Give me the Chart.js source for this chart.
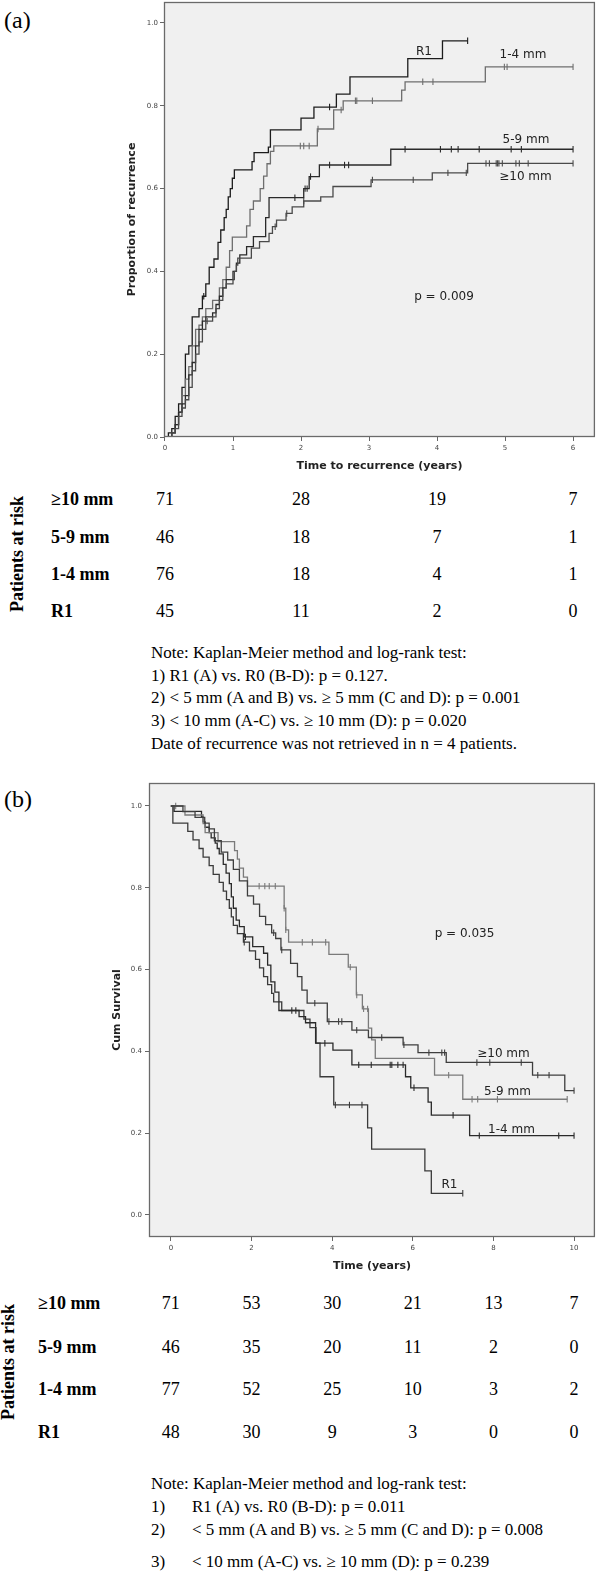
<!DOCTYPE html>
<html>
<head>
<meta charset="utf-8">
<script src="https://cdn.jsdelivr.net/npm/chart.js@4.4.1/dist/chart.umd.min.js"></script>
<style>
html,body{margin:0;padding:0;background:#fff;}
body{width:600px;height:1571px;position:relative;overflow:hidden;}
canvas{position:absolute;}
.t{position:absolute;white-space:nowrap;line-height:1;}
.serif{font-family:"Liberation Serif","Times New Roman",serif;color:#000;}
.b{font-weight:bold;}
.sans{font-family:"DejaVu Sans",sans-serif;color:#222;font-size:12px;}
</style>
</head>
<body>
<canvas id="ca" width="500" height="490" style="left:100px;top:-10px;width:500px;height:490px"></canvas>
<canvas id="cb" width="520" height="509" style="left:80px;top:771px;width:520px;height:509px"></canvas>
<script>
// ================= DATA (a): proportion of recurrence =================
const aXTicks = [0,1,2,3,4,5,6];
const aYTicks = [0,0.2,0.4,0.6,0.8,1.0];
const aGroups = ['R1','1-4 mm','5-9 mm','≥10 mm'];

const aR1_t = [0,0.05,0.1,0.15,0.2,0.25,0.3,0.35,0.4,0.5,0.55,0.6,0.65,0.72,0.78,0.82,0.87,0.9,0.93,0.96,0.99,1.02,1.28,1.31,1.52,1.55,2.0,2.19,2.52,2.72,3.57,4.08,4.45];
const aR1_p = [0,0.01,0.02,0.05,0.08,0.12,0.2,0.22,0.29,0.31,0.34,0.37,0.41,0.43,0.47,0.5,0.53,0.55,0.58,0.6,0.625,0.645,0.665,0.687,0.7,0.742,0.77,0.797,0.828,0.87,0.914,0.957,0.957];
const aR1_c = [0.57,2.42,4.45];

const a14_t = [0,0.1,0.15,0.2,0.25,0.3,0.35,0.4,0.45,0.5,0.55,0.6,0.7,0.8,0.85,0.9,0.95,0.99,1.2,1.25,1.3,1.4,1.45,1.5,1.55,1.6,2.24,2.48,2.62,3.48,3.53,4.71,6.0];
const a14_p = [0,0.01,0.03,0.06,0.1,0.14,0.17,0.22,0.26,0.27,0.29,0.31,0.33,0.36,0.38,0.41,0.45,0.483,0.51,0.55,0.57,0.6,0.63,0.66,0.69,0.703,0.744,0.79,0.812,0.838,0.858,0.894,0.894];
const a14_c = [1.99,2.04,2.12,2.25,2.59,2.8,2.82,3.05,3.79,3.94,4.99,5.03,6.0];

const a59_t = [0,0.1,0.15,0.2,0.25,0.3,0.35,0.4,0.45,0.5,0.55,0.6,0.7,0.75,0.8,0.85,0.9,1.0,1.05,1.1,1.2,1.3,1.48,1.53,2.04,2.12,2.27,3.32,6.0];
const a59_p = [0,0.01,0.03,0.06,0.08,0.1,0.15,0.18,0.22,0.26,0.28,0.29,0.3,0.32,0.34,0.36,0.38,0.4,0.42,0.44,0.46,0.484,0.53,0.578,0.6,0.629,0.657,0.695,0.695];
const a59_c = [1.91,2.06,2.09,2.14,2.42,2.64,2.7,3.53,4.05,4.21,4.31,4.62,5.09,5.24,6.0];

const a10_t = [0,0.1,0.15,0.2,0.25,0.3,0.35,0.4,0.45,0.5,0.55,0.6,0.7,0.75,0.8,0.85,0.9,1.0,1.02,1.05,1.07,1.27,1.39,1.53,1.58,1.64,1.78,1.87,2.04,2.29,2.47,3.03,3.93,4.45,6.0];
const a10_p = [0,0.01,0.02,0.05,0.07,0.09,0.12,0.16,0.2,0.23,0.26,0.28,0.29,0.31,0.33,0.36,0.37,0.38,0.4,0.415,0.432,0.456,0.472,0.492,0.508,0.524,0.54,0.556,0.57,0.58,0.605,0.621,0.638,0.661,0.661];
const a10_c = [0.62,1.62,1.79,2.04,3.05,3.65,4.16,4.43,4.72,4.77,4.87,4.89,4.91,4.96,5.16,5.21,5.34,6.0];

const aRiskTimes = [0,2,4,6];
const aRiskLabels = ['≥10 mm','5-9 mm','1-4 mm','R1'];
const aRisk10 = [71,28,19,7];
const aRisk59 = [46,18,7,1];
const aRisk14 = [76,18,4,1];
const aRiskR1 = [45,11,2,0];

// ================= DATA (b): cumulative survival =================
const bXTicks = [0,2,4,6,8,10];
const bYTicks = [0,0.2,0.4,0.6,0.8,1.0];

const bR1_t = [0,0.05,0.42,0.55,0.7,0.8,0.95,1.05,1.2,1.3,1.38,1.45,1.5,1.55,1.65,1.8,1.95,2.1,2.2,2.3,2.4,2.5,2.55,2.75,3.3,3.45,3.6,3.7,4.04,4.88,4.98,6.3,6.46,7.24];
const bR1_s = [1,0.958,0.938,0.917,0.896,0.875,0.854,0.833,0.813,0.792,0.771,0.75,0.729,0.708,0.688,0.667,0.646,0.625,0.604,0.583,0.563,0.542,0.521,0.5,0.479,0.458,0.42,0.338,0.269,0.213,0.161,0.108,0.053,0.053];
const bR1_c = [1.82,4.08,4.43,4.74,7.24];

const b14_t = [0,0.08,0.76,0.8,0.85,0.95,1.0,1.1,1.15,1.2,1.3,1.37,1.45,1.5,1.55,1.62,1.7,1.82,2.03,2.3,2.4,2.48,2.58,2.68,3.18,3.34,3.59,4.02,4.49,5.82,5.95,6.38,6.46,7.41,10.0];
const b14_s = [1,0.987,0.974,0.961,0.948,0.935,0.922,0.909,0.896,0.883,0.857,0.836,0.81,0.778,0.75,0.721,0.705,0.68,0.656,0.64,0.611,0.57,0.545,0.5,0.485,0.47,0.42,0.403,0.367,0.338,0.311,0.276,0.244,0.194,0.194];
const b14_c = [1.85,3.0,3.1,3.82,4.66,4.97,5.44,5.48,5.63,5.76,6.03,7.0,7.65,9.62,10.0];

const b59_t = [0,0.35,0.8,0.85,1.17,1.58,1.65,1.7,1.8,1.9,2.81,2.85,2.92,3.92,4.4,4.6,4.75,4.9,4.98,5.07,6.54,7.24,9.83];
const b59_s = [1,0.978,0.957,0.935,0.913,0.891,0.87,0.848,0.826,0.804,0.75,0.697,0.667,0.637,0.606,0.538,0.504,0.457,0.428,0.383,0.342,0.283,0.283];
const b59_c = [0.12,2.19,2.33,2.44,2.59,2.81,2.85,3.26,3.51,3.84,4.45,4.61,4.78,4.88,6.89,7.47,7.61,8.1,9.83];

const b10_t = [0,0.3,0.6,0.84,0.95,1.08,1.25,1.41,1.55,1.7,1.9,2.05,2.2,2.35,2.5,2.6,2.73,2.97,3.14,3.25,3.38,3.88,4.49,4.9,5.76,6.13,6.83,8.97,9.77,10.0];
const b10_s = [1,0.986,0.972,0.958,0.944,0.915,0.887,0.868,0.845,0.817,0.78,0.76,0.73,0.71,0.69,0.676,0.648,0.615,0.583,0.55,0.518,0.473,0.452,0.434,0.416,0.397,0.373,0.342,0.304,0.304];
const b10_c = [2.55,2.75,3.57,3.92,4.16,4.24,4.61,5.23,5.78,6.4,6.72,6.79,7.59,7.91,8.69,9.1,9.38,10.0];

const bRiskTimes = [0,2,4,6,8,10];
const bRiskLabels = ['≥10 mm','5-9 mm','1-4 mm','R1'];
const bRisk10 = [71,53,30,21,13,7];
const bRisk59 = [46,35,20,11,2,0];
const bRisk14 = [77,52,25,10,3,2];
const bRiskR1 = [48,30,9,3,0,0];

// ================= helpers =================
function stepVal(ts, vs, t){ let v = vs[0]; for (let i=0;i<ts.length;i++){ if (ts[i] <= t + 1e-9) v = vs[i]; } return v; }
function lineDS(ts, vs, color){
  return {type:'line', data: ts.map((t,i)=>({x:t,y:vs[i]})), borderColor:color, borderWidth:1.3,
    stepped:'before', pointRadius:0, fill:false, tension:0};
}
function censorDS(cs, ts, vs, color){
  return {type:'scatter', data: cs.map(t=>({x:t,y:stepVal(ts,vs,t)})), showLine:false,
    pointStyle:'line', pointRotation:90, pointRadius:3.2, pointBorderColor:color, pointBorderWidth:1.1,
    borderColor:color, backgroundColor:color};
}
const framePlugin = {
  id:'frame',
  beforeDraw(chart){ const {ctx, chartArea:a} = chart; ctx.save(); ctx.fillStyle='#f0f0f0';
    ctx.fillRect(a.left, a.top, a.right-a.left, a.bottom-a.top); ctx.restore(); },
  afterDraw(chart){ const {ctx, chartArea:a} = chart; ctx.save(); ctx.strokeStyle='#6a6a6a'; ctx.lineWidth=1.3;
    ctx.strokeRect(a.left+0.5, a.top+0.5, a.right-a.left-1, a.bottom-a.top-1); ctx.restore(); }
};
const tickFont = {family:'DejaVu Sans', size:7};
const titleFont = {family:'DejaVu Sans', size:11, weight:'bold'};

function makeChart(id, datasets, o){
  return new Chart(document.getElementById(id), {
    type:'line',
    data:{datasets},
    plugins:[framePlugin],
    options:{
      responsive:false, animation:false, devicePixelRatio:1,
      layout:{padding:{top:12,right:2,left:0,bottom:0}},
      plugins:{legend:{display:false}, tooltip:{enabled:false}},
      scales:{
        x:{type:'linear', min:o.xmin, max:o.xmax,
          afterBuildTicks:s=>{ s.ticks = o.xticks.map(v=>({value:v})); },
          afterFit:s=>{ s.height = o.xh; },
          grid:{drawOnChartArea:false, drawTicks:true, tickLength:4, color:'#666'},
          border:{display:false},
          ticks:{font:tickFont, color:'#444', padding:3, maxRotation:0, autoSkip:false},
          title:{display:true, text:o.xtitle, font:titleFont, color:'#222', padding:{top:0,bottom:7.4}}
        },
        y:{type:'linear', min:o.ymin, max:o.ymax,
          afterBuildTicks:s=>{ s.ticks = o.yticks.map(v=>({value:v})); },
          afterFit:s=>{ s.width = o.yw; },
          grid:{drawOnChartArea:false, drawTicks:true, tickLength:4, color:'#666'},
          border:{display:false},
          ticks:{font:tickFont, color:'#444', padding:o.ypad, autoSkip:false, callback:v=>Number(v).toFixed(1)},
          title:{display:true, text:o.ytitle, font:titleFont, color:'#222', padding:{top:o.ytpad,bottom:0}}
        }
      }
    }
  });
}

// ================= chart (a) =================
const aCol = {r1:'#1c1c1c', m14:'#6e6e6e', m59:'#2a2a2a', m10:'#4a4a4a'};
const chartA = makeChart('ca', [
  lineDS(a10_t,a10_p,aCol.m10), lineDS(a59_t,a59_p,aCol.m59), lineDS(a14_t,a14_p,aCol.m14), lineDS(aR1_t,aR1_p,aCol.r1),
  censorDS(a10_c,a10_t,a10_p,aCol.m10), censorDS(a59_c,a59_t,a59_p,aCol.m59), censorDS(a14_c,a14_t,a14_p,aCol.m14), censorDS(aR1_c,aR1_t,aR1_p,aCol.r1)
], {xmin:-0.0146, xmax:6.3212, ymin:0, ymax:1.0507, xticks:aXTicks, yticks:aYTicks, xh:43, yw:64, ypad:2, ytpad:25.4,
    xtitle:'Time to recurrence (years)', ytitle:'Proportion of recurrence'});

// ================= chart (b) =================
const bCol = {r1:'#3a3a3a', m14:'#2a2a2a', m59:'#7a7a7a', m10:'#3e3e3e'};
const chartB = makeChart('cb', [
  lineDS(b10_t,b10_s,bCol.m10), lineDS(b59_t,b59_s,bCol.m59), lineDS(b14_t,b14_s,bCol.m14), lineDS(bR1_t,bR1_s,bCol.r1),
  censorDS(b10_c,b10_t,b10_s,bCol.m10), censorDS(b59_c,b59_t,b59_s,bCol.m59), censorDS(b14_c,b14_t,b14_s,bCol.m14), censorDS(bR1_c,bR1_t,bR1_s,bCol.r1)
], {xmin:-0.542, xmax:10.517, ymin:-0.0538, ymax:1.0562, xticks:bXTicks, yticks:bYTicks, xh:43, yw:69, ypad:3, ytpad:30.4,
    xtitle:'Time (years)', ytitle:'Cum Survival'});

// ================= text =================
function put(txt, x, y, cls, style, center){
  const d = document.createElement('div');
  d.className = 't ' + cls; d.textContent = txt;
  d.style.left = x + 'px'; d.style.top = y + 'px';
  d.style.transform = center ? 'translate(-50%,-50%)' : 'translate(0,-50%)';
  if (style) Object.assign(d.style, style);
  document.body.appendChild(d);
  return d;
}
// panel letters
put('(a)', 4, 20, 'serif', {fontSize:'24px'});
put('(b)', 4, 799, 'serif', {fontSize:'24px'});

// in-plot labels (a)
put('R1', 424, 51, 'sans', null, true);
put('1-4 mm', 523, 54, 'sans', null, true);
put('5-9 mm', 526, 139, 'sans', null, true);
put('≥10 mm', 525.5, 176, 'sans', null, true);
put('p = 0.009', 444, 296, 'sans', null, true);
// in-plot labels (b)
put('≥10 mm', 503.5, 1053, 'sans', null, true);
put('5-9 mm', 507.5, 1091, 'sans', null, true);
put('1-4 mm', 511.5, 1129, 'sans', null, true);
put('R1', 449.5, 1184, 'sans', null, true);
put('p = 0.035', 464.5, 933, 'sans', null, true);

// risk tables
function riskTable(chart, canvasLeft, times, labels, rows, rowY, labelX, sideX, sideY){
  const r = put('Patients at risk', sideX, sideY, 'serif b', {fontSize:'18px'}, true);
  r.style.transform = 'translate(-50%,-50%) rotate(-90deg)';
  labels.forEach((lab,i)=>{
    put(lab, labelX, rowY[i], 'serif b', {fontSize:'18px'});
    rows[i].forEach((n,j)=>{
      const px = canvasLeft + chart.scales.x.getPixelForValue(times[j]);
      put(String(n), px, rowY[i], 'serif', {fontSize:'18px'}, true);
    });
  });
}
riskTable(chartA, 100, aRiskTimes, aRiskLabels, [aRisk10,aRisk59,aRisk14,aRiskR1], [499,537,574,611], 51, 17, 554);
riskTable(chartB, 80, bRiskTimes, bRiskLabels, [bRisk10,bRisk59,bRisk14,bRiskR1], [1303,1347,1389,1432], 38, 8, 1362);

// notes
const noteStyle = {fontSize:'17px'};
const aNotes = ['Note: Kaplan-Meier method and log-rank test:',
  '1) R1 (A) vs. R0 (B-D): p = 0.127.',
  '2) < 5 mm (A and B) vs. ≥ 5 mm (C and D): p = 0.001',
  '3) < 10 mm (A-C) vs. ≥ 10 mm (D): p = 0.020',
  'Date of recurrence was not retrieved in n = 4 patients.'];
[652,675,697,720,743].forEach((y,i)=>put(aNotes[i], 151, y, 'serif', noteStyle));

put('Note: Kaplan-Meier method and log-rank test:', 151, 1483, 'serif', noteStyle);
const bNotesNum = ['1)','2)','3)'];
const bNotes = ['R1 (A) vs. R0 (B-D): p = 0.011',
  '< 5 mm (A and B) vs. ≥ 5 mm (C and D): p = 0.008',
  '< 10 mm (A-C) vs. ≥ 10 mm (D): p = 0.239'];
[1506,1529,1561].forEach((y,i)=>{ put(bNotesNum[i], 151, y, 'serif', noteStyle); put(bNotes[i], 192, y, 'serif', noteStyle); });
</script>
</body>
</html>
